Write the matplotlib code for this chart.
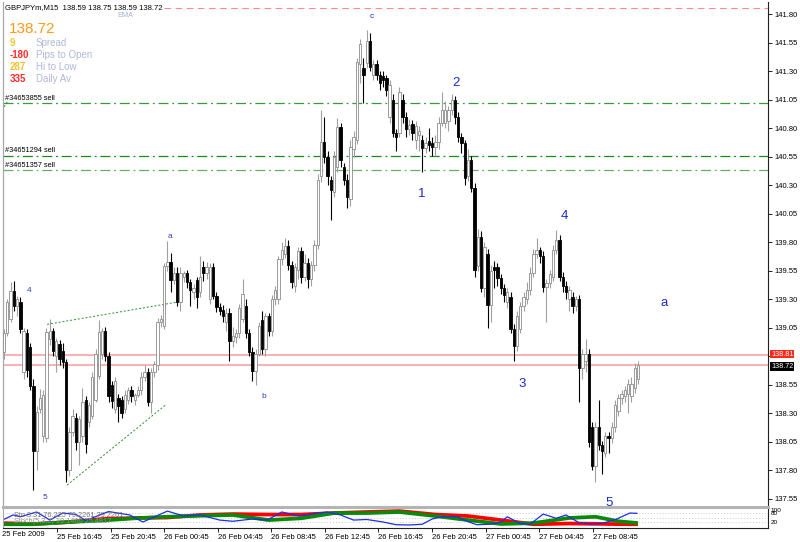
import numpy as np
import matplotlib
matplotlib.use("Agg")
import matplotlib.pyplot as plt
from matplotlib.transforms import blended_transform_factory

plt.rcParams['font.family'] = ['Liberation Sans', 'DejaVu Sans']

# ---- GBPJPYm M15 candles (open, high, low, close) ----
opens = [138.84, 139.00, 139.13, 139.37, 139.24, 139.28, 138.66, 139.00, 138.88, 138.54,
         137.97, 138.34, 138.10, 138.08, 138.95, 139.02, 138.80, 138.91, 138.85, 138.75,
         137.80, 138.14, 138.26, 138.05, 138.10, 138.42, 138.22, 138.28, 138.42, 138.63,
         138.82, 139.02, 138.80, 138.55, 138.34, 138.43, 138.42, 138.34, 138.42, 138.50,
         138.42, 138.46, 138.50, 138.62, 138.66, 138.40, 138.66, 138.72, 139.10, 139.07,
         139.59, 139.63, 139.47, 139.53, 139.28, 139.50, 139.53, 139.45, 139.36, 139.47,
         139.36, 139.58, 139.53, 139.30, 139.58, 139.33, 139.23, 139.21, 139.10, 139.18,
         138.93, 138.97, 139.00, 139.13, 139.24, 139.00, 138.84, 138.67, 138.82, 139.12,
         138.86, 139.15, 139.02, 139.30, 139.30, 139.65, 139.70, 139.77, 139.60, 139.42,
         139.56, 139.72, 139.50, 139.62, 139.48, 139.60, 139.78, 140.38, 140.68, 140.55,
         140.35, 140.24, 140.46, 140.81, 140.46, 140.35, 140.18, 140.62, 140.70, 141.36,
         141.33, 141.37, 141.57, 141.27, 141.36, 141.27, 141.26, 141.24, 140.90, 141.05,
         140.76, 140.76, 141.05, 140.90, 140.79, 140.84, 140.70, 140.74, 140.70, 140.63,
         140.69, 140.67, 140.64, 140.68, 140.85, 140.85, 140.86, 140.96, 141.05, 140.90,
         140.72, 140.67, 140.38, 140.52, 140.28, 139.59, 139.85, 139.40, 139.70, 139.25,
         139.58, 139.58, 139.49, 139.40, 139.28, 139.32, 139.04, 138.89, 139.04, 139.24,
         139.30, 139.38, 139.53, 139.70, 139.73, 139.68, 139.41, 139.44, 139.50, 139.73,
         139.82, 139.50, 139.42, 139.30, 139.32, 139.24, 139.30, 138.70, 138.76, 138.82,
         138.18, 137.84, 138.18, 138.02, 137.95, 138.10, 138.08, 138.18, 138.32, 138.43,
         138.45, 138.47, 138.45, 138.52, 138.60]
highs = [139.04, 139.30, 139.45, 139.46, 139.33, 139.32, 139.05, 139.04, 138.92, 138.60,
         138.36, 138.51, 138.50, 139.05, 139.13, 139.05, 138.96, 138.94, 138.92, 138.78,
         138.18, 138.34, 138.30, 138.28, 138.52, 138.45, 138.40, 138.66, 138.86, 139.12,
         139.05, 139.06, 138.84, 138.58, 138.62, 138.47, 138.45, 138.50, 138.53, 138.54,
         138.48, 138.54, 138.66, 138.72, 138.70, 138.70, 138.76, 139.14, 139.16, 139.62,
         139.81, 139.71, 139.58, 139.58, 139.58, 139.55, 139.56, 139.48, 139.43, 139.50,
         139.68, 139.64, 139.63, 139.62, 139.62, 139.36, 139.27, 139.25, 139.22, 139.22,
         139.06, 139.04, 139.26, 139.48, 139.30, 139.04, 138.88, 138.86, 139.10, 139.20,
         139.18, 139.18, 139.34, 139.42, 139.68, 139.80, 139.84, 139.82, 139.64, 139.62,
         139.76, 139.76, 139.70, 139.66, 139.64, 139.82, 140.40, 140.96, 140.90, 140.60,
         140.38, 140.60, 140.89, 140.85, 140.50, 140.40, 140.70, 140.78, 141.42, 141.58,
         141.42, 141.66, 141.64, 141.40, 141.40, 141.30, 141.30, 141.27, 141.22, 141.10,
         140.79, 141.16, 141.10, 140.94, 140.88, 140.87, 140.86, 140.82, 140.74, 140.72,
         140.80, 140.72, 140.74, 140.90, 141.12, 141.04, 141.00, 141.10, 141.08, 140.94,
         140.76, 140.70, 140.62, 140.56, 140.32, 139.92, 139.90, 139.80, 139.74, 139.60,
         139.64, 139.62, 139.52, 139.43, 139.40, 139.36, 139.08, 139.20, 139.28, 139.36,
         139.45, 139.58, 139.74, 139.84, 139.76, 139.72, 139.48, 139.56, 139.78, 139.91,
         139.86, 139.54, 139.46, 139.42, 139.36, 139.33, 139.34, 138.86, 138.95, 138.86,
         138.22, 138.22, 138.42, 138.06, 138.14, 138.14, 138.22, 138.42, 138.47, 138.50,
         138.54, 138.60, 138.62, 138.74, 138.76]
lows = [138.78, 138.98, 139.10, 139.20, 139.15, 139.00, 138.60, 138.62, 138.50, 137.63,
        137.80, 138.30, 138.05, 138.05, 138.90, 138.80, 138.66, 138.72, 138.70, 137.70,
        137.75, 138.10, 137.98, 137.85, 138.05, 137.95, 138.18, 138.25, 138.40, 138.60,
        138.78, 138.76, 138.40, 138.35, 138.30, 138.22, 138.26, 138.30, 138.38, 138.40,
        138.37, 138.44, 138.46, 138.58, 138.36, 138.30, 138.62, 138.68, 139.06, 139.04,
        139.55, 139.36, 139.43, 139.24, 139.20, 139.45, 139.40, 139.24, 139.30, 139.22,
        139.32, 139.46, 139.48, 139.26, 139.30, 139.19, 139.16, 139.10, 139.02, 138.76,
        138.88, 138.92, 138.96, 139.10, 138.96, 138.80, 138.58, 138.55, 138.80, 138.82,
        138.80, 138.98, 138.98, 139.25, 139.26, 139.60, 139.66, 139.56, 139.40, 139.36,
        139.48, 139.44, 139.46, 139.40, 139.42, 139.55, 139.74, 140.33, 140.50, 140.30,
        140.00, 140.20, 140.42, 140.46, 140.30, 140.10, 140.12, 140.55, 140.66, 141.20,
        141.02, 141.33, 141.30, 141.22, 141.22, 141.14, 141.16, 141.08, 140.85, 140.72,
        140.60, 140.72, 140.85, 140.72, 140.74, 140.70, 140.62, 140.60, 140.42, 140.58,
        140.60, 140.56, 140.56, 140.62, 140.82, 140.80, 140.78, 140.92, 140.84, 140.68,
        140.58, 140.30, 140.34, 140.24, 139.50, 139.55, 139.36, 139.32, 139.05, 139.10,
        139.40, 139.42, 139.35, 139.28, 139.22, 139.00, 138.76, 138.85, 139.00, 139.20,
        139.26, 139.34, 139.50, 139.66, 139.62, 139.36, 139.10, 139.40, 139.46, 139.70,
        139.46, 139.36, 139.30, 139.20, 139.18, 139.20, 138.40, 138.60, 138.66, 138.00,
        137.80, 137.70, 137.98, 137.77, 137.92, 137.95, 138.04, 138.14, 138.28, 138.38,
        138.40, 138.30, 138.40, 138.48, 138.56]
closes = [139.00, 139.28, 139.37, 139.24, 139.30, 139.04, 139.02, 138.68, 138.54, 137.97,
          138.31, 138.43, 138.46, 139.01, 139.02, 138.85, 138.93, 138.78, 138.75, 137.80,
          138.14, 138.28, 138.05, 138.25, 138.40, 138.03, 138.37, 138.62, 138.82, 139.01,
          139.02, 138.80, 138.45, 138.41, 138.58, 138.36, 138.30, 138.46, 138.50, 138.45,
          138.46, 138.50, 138.62, 138.66, 138.40, 138.66, 138.73, 139.10, 139.13, 139.59,
          139.63, 139.47, 139.53, 139.28, 139.53, 139.53, 139.45, 139.38, 139.40, 139.32,
          139.50, 139.53, 139.58, 139.58, 139.33, 139.23, 139.20, 139.15, 139.18, 138.93,
          138.98, 139.00, 139.22, 139.35, 139.00, 138.84, 138.67, 138.82, 139.07, 138.86,
          139.15, 139.02, 139.30, 139.38, 139.65, 139.73, 139.77, 139.60, 139.45, 139.58,
          139.72, 139.50, 139.62, 139.48, 139.60, 139.78, 140.35, 140.68, 140.55, 140.38,
          140.26, 140.55, 140.81, 140.52, 140.35, 140.20, 140.64, 140.72, 141.38, 141.54,
          141.27, 141.57, 141.34, 141.36, 141.27, 141.20, 141.22, 141.14, 141.18, 140.76,
          140.72, 141.12, 140.90, 140.79, 140.83, 140.76, 140.82, 140.78, 140.63, 140.67,
          140.65, 140.64, 140.68, 140.85, 140.96, 140.96, 140.96, 141.05, 140.90, 140.72,
          140.67, 140.36, 140.52, 140.28, 139.56, 139.85, 139.40, 139.76, 139.25, 139.55,
          139.56, 139.49, 139.40, 139.34, 139.36, 139.04, 138.89, 139.15, 139.24, 139.32,
          139.38, 139.53, 139.70, 139.73, 139.68, 139.41, 139.44, 139.52, 139.73, 139.82,
          139.50, 139.42, 139.36, 139.38, 139.24, 139.30, 138.70, 138.82, 138.82, 138.05,
          137.84, 138.18, 138.02, 137.97, 138.10, 138.08, 138.18, 138.37, 138.43, 138.47,
          138.50, 138.56, 138.56, 138.70, 138.72]

time_labels = ["25 Feb 16:45", "25 Feb 20:45", "26 Feb 00:45", "26 Feb 04:45",
               "26 Feb 08:45", "26 Feb 12:45", "26 Feb 16:45", "26 Feb 20:45",
               "27 Feb 00:45", "27 Feb 04:45", "27 Feb 08:45"]

# order lines
order_prices = [141.02, 140.56, 140.43]
order_tags = ["#34653855 sell", "#34651294 sell", "#34651357 sell"]
order_colors = ["#3a9a3a", "#1a8a1a", "#6aac6a"]
stop_price = 141.855
ask_price = 138.81
bid_price = 138.72

# hand drawn trendlines (bar, price)
tl_upper = ([13.2, 53.9], [139.08, 139.28])
tl_lower = ([19.3, 49.3], [137.67, 138.37])
tl_corner = ([-0.6, 1.2], [140.96, 141.04])

# wave counts
big_waves = ["c", "2", "1", "4", "3", "5", "a"]
big_bars = [112.6, 138.3, 127.9, 171.4, 158.5, 185.1, 202.0]
big_prices = [141.78, 141.20, 140.22, 140.03, 138.56, 137.51, 139.27]
big_sizes = [6, 9.5, 9.5, 9.5, 9.5, 9.5, 9.5]
small_waves = ["a", "b", "4", "5"]
small_bars = [50.8, 79.6, 7.6, 12.5]
small_prices = [139.85, 138.45, 139.38, 137.56]

# stochastic sub-window
blue_x = [-0.3, 2.8, 5, 10, 14, 18, 22, 25, 32, 38.5, 42.5, 50, 55, 60, 66, 70, 76, 80.5,
          85, 90.5, 96, 99, 103, 107, 111, 116, 120, 124, 128, 131, 134, 138.6, 141.7,
          144.7, 148.7, 152, 154, 158, 161, 165, 169, 172, 176, 180, 183, 187.5, 191.5, 193.7]
blue_v = [35, 67, 55, 87, 33, 80, 70, 30, 90, 67, 20, 93, 60, 67, 33, 25, 40, 33,
          87, 60, 80, 87, 67, 33, 37, 20, 2, 0, 5, 40, 55, 55, 25,
          2, 5, 20, 55, 10, 5, 73, 45, 67, 15, 5, 10, 40, 80, 78]
slow_x = [-1, 9, 20, 30, 40, 50, 60, 70, 81, 91, 101, 111, 121, 132, 142, 152, 162, 173, 181, 188, 194]
red_v = [13, 7, 20, 40, 47, 50, 67, 73, 70, 70, 80, 87, 93, 70, 60, 33, 5, 10, 8, 6, 5]
green_v = [5, 5, 20, 30, 45, 55, 62, 67, 33, 45, 80, 80, 87, 60, 33, 7, 13, 47, 55, 25, 13]

W, H = 800, 542
fig = plt.figure(figsize=(8, 5.42), dpi=100)
fig.patch.set_facecolor("white")


def fx(px):
    return px / W


def fy(py):
    return 1 - py / H


ax = fig.add_axes([fx(3), fy(507), 765 / W, 505 / H])
axi = fig.add_axes([fx(3), fy(528), 765 / W, 19 / H])

o = np.array(opens)
hi = np.array(highs)
lo = np.array(lows)
c = np.array(closes)
idx = np.arange(len(c))
up = c >= o

wick_col = np.where(up, "#a0a0a0", "black")
ax.vlines(idx, lo, hi, colors=wick_col, linewidth=0.8, zorder=2)
ax.bar(idx, np.maximum(np.abs(c - o), 0.008), bottom=np.minimum(o, c), width=0.72,
       color=np.where(up, "white", "black"), edgecolor=np.where(up, "#8c8c8c", "black"),
       linewidth=0.6, zorder=3)

xmin, xmax = -0.31, 233.8
ax.set_xlim(xmin, xmax)
ax.set_ylim(137.478, 141.908)

# order / price lines
for p, tag, col in zip(order_prices, order_tags, order_colors):
    ax.axhline(p, color=col, linewidth=0.9, dashes=(8, 3, 1.5, 3), zorder=1)
    ax.annotate(tag, (0.3, p), xytext=(0, 1), textcoords="offset points",
                fontsize=5.3, va="bottom", ha="left", color="black")
ax.axhline(stop_price, xmin=0.21, color="#ff8a8a", linewidth=0.8, dashes=(6, 4), zorder=1)
ax.axhline(ask_price, color="#f7a6a6", linewidth=1.2, zorder=1)
ax.axhline(bid_price, color="#f7a6a6", linewidth=1.2, zorder=1)

for tl in (tl_upper, tl_lower, tl_corner):
    ax.plot(tl[0], tl[1], color="#2e8b2e", linewidth=0.7, dashes=(2, 2), zorder=1)

for t, b, p, s in zip(big_waves, big_bars, big_prices, big_sizes):
    ax.text(b, p, t, fontsize=s, color="#1a2ad0", ha="center", va="center")
for t, b, p in zip(small_waves, small_bars, small_prices):
    ax.text(b, p, t, fontsize=6, color="#3040c0", ha="center", va="center")

# price axis (the level under the ask tag is hidden, as in the terminal)
ax.yaxis.tick_right()
yt = np.arange(137.55, 141.81, 0.25)
ax.set_yticks(yt)
ax.set_yticklabels(["" if abs(v - ask_price) < 0.05 else "%.2f" % v for v in yt])
ax.tick_params(axis="y", length=3, width=0.6, labelsize=5.5, pad=2, colors="black")
ax.set_xticks([])
ax.spines["top"].set_visible(False)
ax.spines["left"].set_color("#a8a8a8")
ax.spines["left"].set_linewidth(0.9)
ax.spines["right"].set_color("#202020")
ax.spines["right"].set_linewidth(0.8)
ax.spines["bottom"].set_color("#b4b4b4")
ax.spines["bottom"].set_linewidth(2.2)

tr = blended_transform_factory(ax.transAxes, ax.transData)
ax.text(1.004, ask_price + 0.01, "%.2f" % ask_price, transform=tr, fontsize=5.2, color="white",
        va="center", ha="left", bbox=dict(boxstyle="square,pad=0.08", fc="#ff2a1a", ec="none"))
ax.text(1.004, bid_price - 0.01, "%.2f" % bid_price, transform=tr, fontsize=5.2, color="white",
        va="center", ha="left", bbox=dict(boxstyle="square,pad=0.08", fc="black", ec="none"))

# stochastic window
axi.set_xlim(xmin, xmax)
axi.set_ylim(-20, 107)
for lv in (80, 50, 20):
    axi.axhline(lv, color="#c8c8c8", linewidth=0.7, dashes=(1, 2))
axi.plot(slow_x, red_v, color="#ff0000", linewidth=2.7, solid_capstyle="butt")
axi.plot(slow_x, green_v, color="#0a8a0a", linewidth=2.7, solid_capstyle="butt")
axi.plot(blue_x, blue_v, color="#1e2ee6", linewidth=0.9)
axi.text(3, 62, "Sto 3.31 76.225 79.2261 79.2261", fontsize=5.3, color="#707070",
         va="center", ha="left")
axi.text(3, 22, "Stoch(5,3,3) 19.1460 25.4817", fontsize=5.3, color="#909090",
         va="center", ha="left")

axi.yaxis.tick_right()
axi.set_yticks([100, 80, 20])
axi.set_yticklabels(["100", "80", "20"])
axi.tick_params(axis="y", length=0, labelsize=4.6, pad=2)
tick_pos = 16.2 + 16.4 * np.arange(len(time_labels))
axi.set_xticks(tick_pos)
axi.set_xticklabels(time_labels)
for lab in axi.get_xticklabels():
    lab.set_horizontalalignment("left")
axi.tick_params(axis="x", length=3, width=0.6, labelsize=5.5, pad=1.5)
axi.spines["top"].set_visible(False)
axi.spines["left"].set_color("#a8a8a8")
axi.spines["right"].set_color("#202020")
axi.spines["right"].set_linewidth(0.8)
axi.spines["bottom"].set_color("#202020")
axi.spines["bottom"].set_linewidth(0.8)

fig.text(fx(2), fy(535), "25 Feb 2009", fontsize=5.5, va="center", ha="left")

# header / info block
fig.text(fx(5), fy(8), "GBPJPYm,M15  138.59 138.75 138.59 138.72", fontsize=5.5,
         va="center", ha="left", color="black")
fig.text(fx(117), fy(15.5), "EMA", fontsize=5.3, va="center", ha="left", color="#a8b4d0")
fig.text(fx(9), fy(29), "138.72", fontsize=11, va="center", ha="left", color="#ff9a1a")
info_vals = ["9", "-180", "287", "335"]
info_cols = ["#f2c230", "#ff2a2a", "#f2c230", "#ff2a2a"]
info_names = ["Spread", "Pips to Open", "Hi to Low", "Daily Av"]
for k, (v, col, name) in enumerate(zip(info_vals, info_cols, info_names)):
    yy = 42.5 + 12.3 * k
    fig.text(fx(10), fy(yy), v, fontsize=7, va="center", ha="left", color=col,
             fontweight="bold")
    fig.text(fx(36), fy(yy), name, fontsize=7, va="center", ha="left", color="#b0b8d8")

fig.savefig("out.png", dpi=100, facecolor="white")
